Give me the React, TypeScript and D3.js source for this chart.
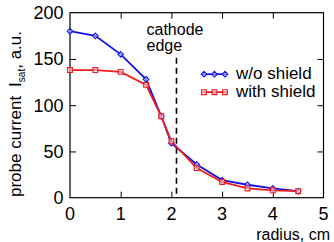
import React, { useEffect } from "react";
import * as d3 from "d3";

// radial profile of the saturation current
const radius = [0, 0.5, 1, 1.5, 1.8, 2, 2.5, 3, 3.5, 4, 4.5];
const withoutShield = [180, 175, 155, 128, 88, 59, 36, 19, 14, 10, 7];
const withShield = [138, 138, 136, 122, 88, 61, 32, 17, 10, 8, 7];
const xTicks = [0, 1, 2, 3, 4, 5];
const yTicks = [0, 50, 100, 150, 200];
const cathodeEdge = 2.1;

const seriesNames = ["w/o shield", "with shield"];
const seriesColors = ["#1414e6", "#f01c1c"];

const App: React.FC = () => {
  useEffect(() => {
    d3.select("#viz_container").select("svg").remove();

    const W = 334;
    const H = 242;
    const margin = { top: 12.7, right: 10.5, bottom: 44.3, left: 70 };
    const width = W - margin.left - margin.right;
    const height = H - margin.top - margin.bottom;
    const font = "'Liberation Sans', Arial, sans-serif";

    const svg = d3
      .select("#viz_container")
      .append("svg")
      .attr("width", W)
      .attr("height", H)
      .style("position", "absolute")
      .style("left", "0px")
      .style("top", "0px")
      .style("background", "#fff")
      .style("font-family", font);

    const g = svg
      .append("g")
      .attr("transform", `translate(${margin.left},${margin.top})`);

    const x = d3.scaleLinear().domain([0, 5]).range([0, width]);
    const y = d3.scaleLinear().domain([0, 200]).range([height, 0]);

    // ticks point inward on all four sides
    const tickLen = 6;
    const axisStyle = (sel: any) => {
      sel.select(".domain").remove();
      sel.selectAll(".tick line").attr("stroke", "#000").attr("stroke-width", 1);
    };
    const innerX = xTicks.filter((t) => t > 0 && t < 5);
    const innerY = yTicks.filter((t) => t > 0 && t < 200);

    g.append("g")
      .attr("transform", `translate(0,${height})`)
      .call(d3.axisBottom(x).tickValues(innerX).tickSize(-tickLen).tickFormat(() => ""))
      .call(axisStyle);
    g.append("g")
      .call(d3.axisTop(x).tickValues(innerX).tickSize(-tickLen).tickFormat(() => ""))
      .call(axisStyle);
    g.append("g")
      .call(d3.axisLeft(y).tickValues(innerY).tickSize(-tickLen).tickFormat(() => ""))
      .call(axisStyle);
    g.append("g")
      .attr("transform", `translate(${width},0)`)
      .call(d3.axisRight(y).tickValues(innerY).tickSize(-tickLen).tickFormat(() => ""))
      .call(axisStyle);

    // frame
    g.append("rect")
      .attr("x", 0)
      .attr("y", 0)
      .attr("width", width)
      .attr("height", height)
      .attr("fill", "none")
      .attr("stroke", "#000")
      .attr("stroke-width", 1.2);

    // tick labels
    g.selectAll(".xlab")
      .data(xTicks)
      .join("text")
      .attr("x", (d) => x(d))
      .attr("y", height + 22)
      .attr("text-anchor", "middle")
      .attr("font-size", 18)
      .attr("fill", "#000")
      .text((d) => d);
    g.selectAll(".ylab")
      .data(yTicks)
      .join("text")
      .attr("x", -6.5)
      .attr("y", (d) => y(d))
      .attr("dy", "0.36em")
      .attr("text-anchor", "end")
      .attr("font-size", 18)
      .attr("fill", "#000")
      .text((d) => d);

    // cathode edge marker
    g.append("line")
      .attr("x1", x(cathodeEdge))
      .attr("x2", x(cathodeEdge))
      .attr("y1", 45)
      .attr("y2", height)
      .attr("stroke", "#000")
      .attr("stroke-width", 1.6)
      .attr("stroke-dasharray", "6,4");
    ["cathode", "edge"].forEach((t, i) =>
      g
        .append("text")
        .attr("x", 76.5)
        .attr("y", 22.6 + i * 16)
        .attr("font-size", 16)
        .attr("fill", "#000")
        .text(t)
    );

    const series = [withoutShield, withShield];
    const line = d3
      .line<number>()
      .x((_, i) => x(radius[i]))
      .y((d) => y(d));

    const diamond = (s: number) => `M0,${-s}L${s},0L0,${s}L${-s},0Z`;
    const square = (s: number) => `M${-s},${-s}H${s}V${s}H${-s}Z`;
    const markers = [diamond(2.8), square(2.4)];

    series.forEach((vals, k) => {
      g.append("path")
        .datum(vals)
        .attr("d", line)
        .attr("fill", "none")
        .attr("stroke", seriesColors[k])
        .attr("stroke-width", 1.8);
      g.selectAll(`.m${k}`)
        .data(vals)
        .join("path")
        .attr("transform", (d, i) => `translate(${x(radius[i])},${y(d)})`)
        .attr("d", markers[k])
        .attr("fill", "#eeeeff")
        .attr("fill-opacity", 0.5)
        .attr("stroke", seriesColors[k])
        .attr("stroke-width", 1.1);
    });

    // legend
    const legend = g.append("g").attr("transform", `translate(132,61.5)`);
    seriesNames.forEach((name, k) => {
      const row = legend.append("g").attr("transform", `translate(0,${k * 18})`);
      row
        .append("line")
        .attr("x1", 0)
        .attr("x2", 25)
        .attr("stroke", seriesColors[k])
        .attr("stroke-width", 1.8);
      [2, 12.5, 23].forEach((mx) =>
        row
          .append("path")
          .attr("transform", `translate(${mx},0)`)
          .attr("d", markers[k])
          .attr("fill", "#eeeeff")
          .attr("fill-opacity", 0.5)
          .attr("stroke", seriesColors[k])
          .attr("stroke-width", 1.1)
      );
      row
        .append("text")
        .attr("x", 34)
        .attr("y", 5)
        .attr("font-size", 17)
        .attr("fill", "#000")
        .text(name);
    });

    // axis titles
    svg
      .append("text")
      .attr("x", 330)
      .attr("y", 240)
      .attr("text-anchor", "end")
      .attr("font-size", 16)
      .attr("fill", "#000")
      .text("radius, cm");

    const ylab = svg
      .append("text")
      .attr("transform", "translate(20.5,197) rotate(-90)")
      .attr("font-size", 17)
      .attr("fill", "#000");
    ylab.append("tspan").text("probe current");
    ylab.append("tspan").attr("dx", 9).text("I");
    ylab.append("tspan").attr("font-size", 10).attr("dy", 4).text("sat");
    ylab.append("tspan").attr("dy", -4).text(", a.u.");
  }, []);

  return <div id="viz_container" />;
};

export default App;
